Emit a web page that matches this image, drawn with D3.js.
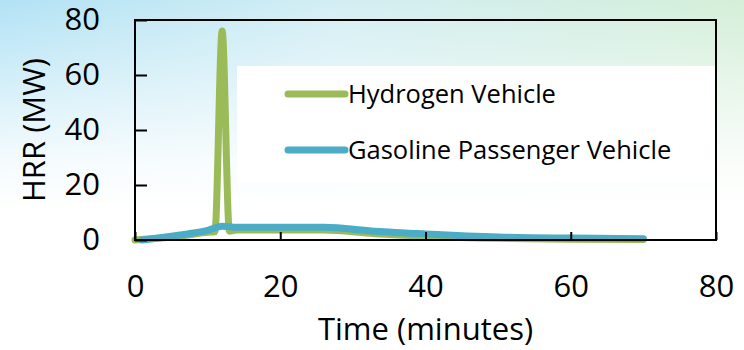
<!DOCTYPE html>
<html>
<head>
<meta charset="utf-8">
<script src="https://cdn.jsdelivr.net/npm/d3@7"></script>
<style>
  html, body { margin: 0; padding: 0; background: #fff; }
  svg { display: block; font-family: "Open Sans", sans-serif; }
</style>
</head>
<body>
<svg id="chart" width="744" height="350"></svg>
<script>
const xTicks = [0, 20, 40, 60, 80];
const yTicks = [0, 20, 40, 60, 80];
const seriesNames = ["Hydrogen Vehicle", "Gasoline Passenger Vehicle"];
const seriesColors = ["#9bbb59", "#4bacc6"];

const hydrogenTime = [0, 4, 7, 10, 11, 12, 13, 14, 26, 33, 40, 50, 60, 70];
const hydrogenHrr = [0, 0.8, 1.7, 2.8, 3.0, 76, 3.2, 3.6, 3.6, 2.3, 1.4, 0.6, 0.3, 0.2];
const gasolineTime = [1, 4, 7, 10, 12, 14, 26, 33, 40, 50, 60, 70];
const gasolineHrr = [0, 1.0, 2.1, 3.5, 5.0, 4.6, 4.6, 3.2, 2.2, 1.1, 0.7, 0.5];

const margin = { top: 20, right: 28, bottom: 110, left: 135 };
const width = 744, height = 350;
const plotW = width - margin.left - margin.right;
const plotH = height - margin.top - margin.bottom;

const svg = d3.select("#chart");
const defs = svg.append("defs");

// background tint: blue -> pale green across, fading to white downwards
const hGrad = defs.append("linearGradient").attr("id", "bgH").attr("x1", 0).attr("x2", 1).attr("y1", 0).attr("y2", 0);
hGrad.append("stop").attr("offset", "0%").attr("stop-color", "#b2e2f5");
hGrad.append("stop").attr("offset", "45%").attr("stop-color", "#d3eef4");
hGrad.append("stop").attr("offset", "100%").attr("stop-color", "#d4efd8");
const vGrad = defs.append("linearGradient").attr("id", "bgV").attr("x1", 0).attr("x2", 0).attr("y1", 0).attr("y2", 1);
vGrad.append("stop").attr("offset", "0%").attr("stop-color", "#fff").attr("stop-opacity", 0);
vGrad.append("stop").attr("offset", "45%").attr("stop-color", "#fff").attr("stop-opacity", 0.85);
vGrad.append("stop").attr("offset", "60%").attr("stop-color", "#fff").attr("stop-opacity", 1);

svg.append("rect").attr("width", width).attr("height", height).attr("fill", "url(#bgH)");
svg.append("rect").attr("width", width).attr("height", height).attr("fill", "url(#bgV)");

const x = d3.scaleLinear().domain([0, 80]).range([0, plotW]);
const y = d3.scaleLinear().domain([0, 80]).range([plotH, 0]);

const chart = svg.append("g").attr("transform", `translate(${margin.left},${margin.top})`);

// legend box (white, sits inside the plot frame on the right)
const legendX = 102, legendY = 46;
const legend = chart.append("g").attr("transform", `translate(${legendX},${legendY})`);
legend.append("rect")
  .attr("width", plotW - legendX)
  .attr("height", 116)
  .attr("fill", "#fff");

const line = d3.line()
  .x((d) => x(d[0]))
  .y((d) => y(d[1]))
  .curve(d3.curveMonotoneX);

const series = [
  d3.zip(hydrogenTime, hydrogenHrr),
  d3.zip(gasolineTime, gasolineHrr),
];

chart.selectAll(".series")
  .data(series)
  .join("path")
  .attr("class", "series")
  .attr("d", line)
  .attr("fill", "none")
  .attr("stroke", (d, i) => seriesColors[i])
  .attr("stroke-width", 7)
  .attr("stroke-linecap", "round")
  .attr("stroke-linejoin", "round");

// frame
chart.append("rect")
  .attr("width", plotW)
  .attr("height", plotH)
  .attr("fill", "none")
  .attr("stroke", "#000")
  .attr("stroke-width", 2);

const xAxis = chart.append("g")
  .attr("transform", `translate(0,${plotH})`)
  .call(d3.axisBottom(x).tickValues(xTicks).tickSizeInner(-8).tickSizeOuter(0).tickPadding(45));
const yAxis = chart.append("g")
  .call(d3.axisLeft(y).tickValues(yTicks).tickSizeInner(-12).tickSizeOuter(0).tickPadding(35));

[xAxis, yAxis].forEach((a) => {
  a.select(".domain").remove();
  a.selectAll(".tick line").attr("stroke", "#000").attr("stroke-width", 2);
  a.selectAll(".tick text")
    .attr("fill", "#000")
    .style("font-family", "'Open Sans', sans-serif")
    .style("font-size", "31px");
});
xAxis.selectAll(".tick text").attr("dy", "0.32em").attr("y", 47);

chart.append("text")
  .attr("x", plotW / 2)
  .attr("y", plotH + 100)
  .attr("text-anchor", "middle")
  .style("font-size", "31px")
  .text("Time (minutes)");

chart.append("text")
  .attr("transform", `translate(${45 - margin.left},${plotH / 2}) rotate(-90)`)
  .attr("text-anchor", "middle")
  .style("font-size", "31px")
  .text("HRR (MW)");

const legendItems = legend.selectAll(".item")
  .data(seriesNames)
  .join("g")
  .attr("class", "item")
  .attr("transform", (d, i) => `translate(0,${28 + i * 56})`);
legendItems.append("line")
  .attr("x1", 288 - margin.left - legendX)
  .attr("x2", 345 - margin.left - legendX)
  .attr("stroke", (d, i) => seriesColors[i])
  .attr("stroke-width", 7)
  .attr("stroke-linecap", "round");
legendItems.append("text")
  .attr("x", 348 - margin.left - legendX)
  .attr("y", 9)
  .style("font-size", "25.5px")
  .attr("fill", "#000")
  .text((d) => d);
</script>
</body>
</html>
